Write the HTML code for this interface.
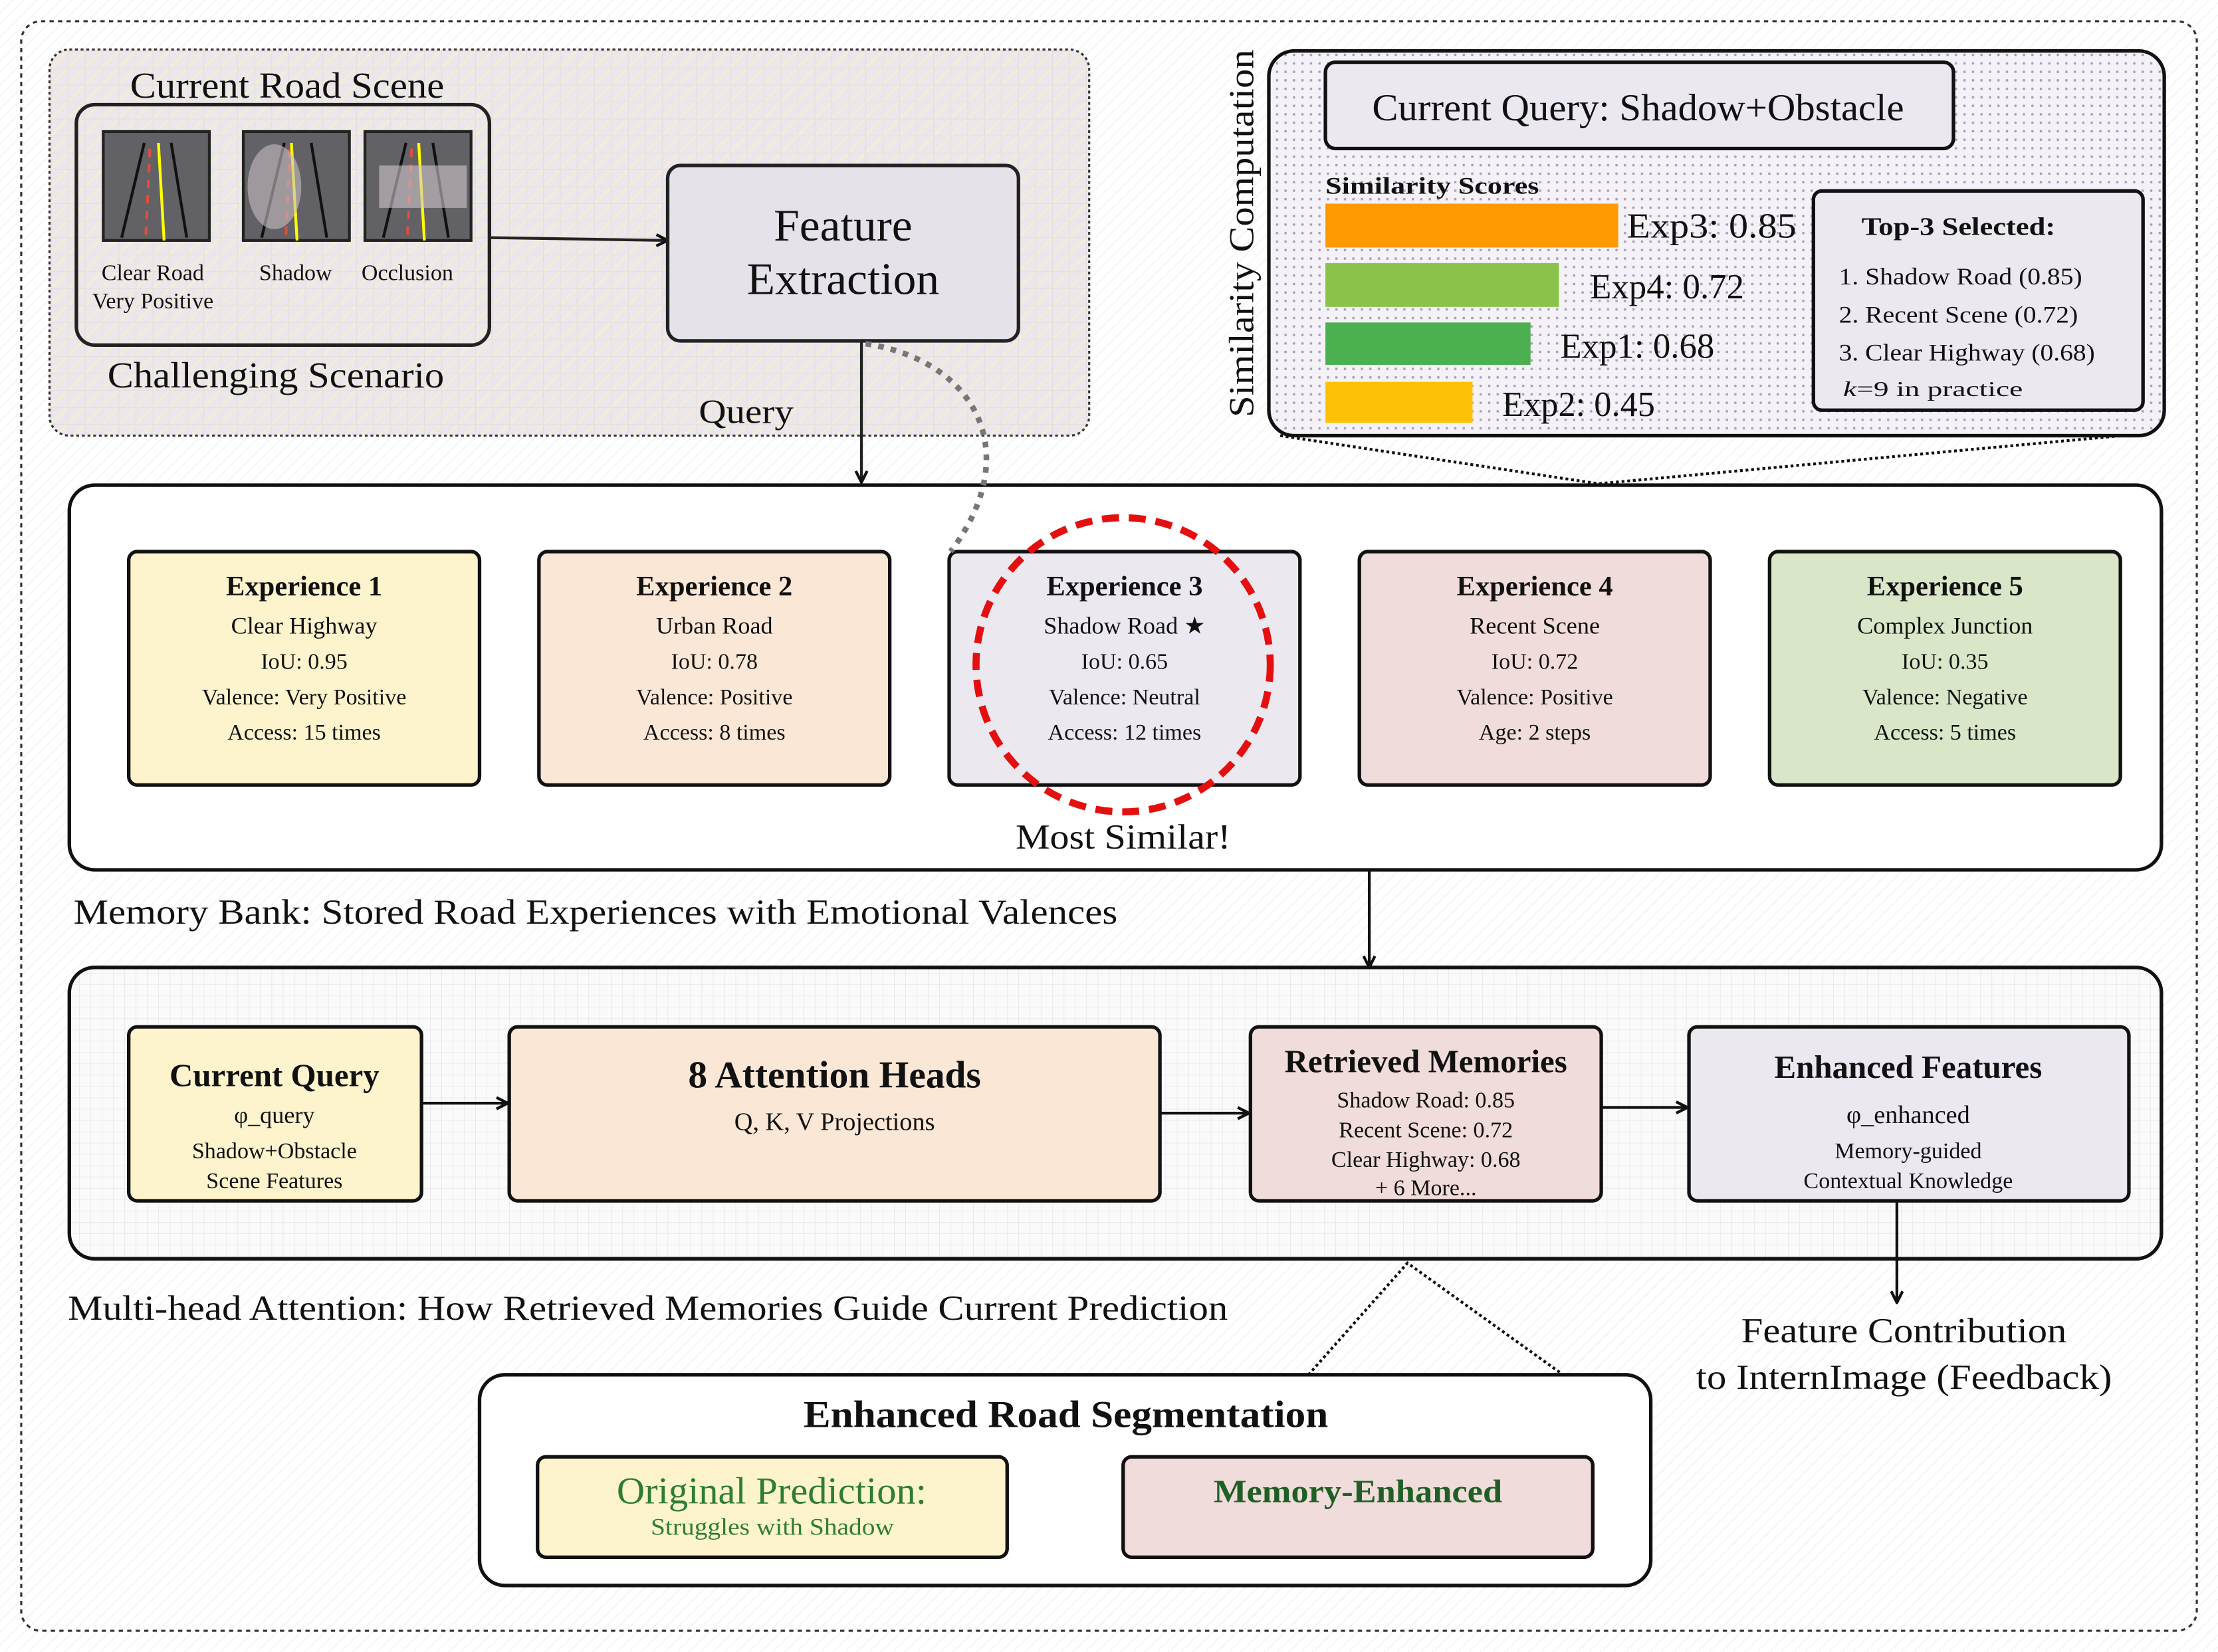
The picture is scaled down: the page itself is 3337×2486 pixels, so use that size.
<!DOCTYPE html>
<html><head><meta charset="utf-8"><style>
html,body{margin:0;padding:0;background:#fff}
svg{display:block}
text{font-family:"Liberation Serif",serif;fill:#111}
.b{font-weight:bold}
</style></head><body>
<svg width="3337" height="2486" viewBox="0 0 1568 1168" preserveAspectRatio="none" xmlns="http://www.w3.org/2000/svg">
<defs>
<pattern id="diag" width="6" height="6" patternUnits="userSpaceOnUse" patternTransform="rotate(45)"><rect width="6" height="6" fill="#fff"/><line x1="0" y1="0" x2="0" y2="6" stroke="#eee" stroke-width="1"/></pattern>
<pattern id="tl" width="12" height="12" patternUnits="userSpaceOnUse"><rect width="12" height="12" fill="#ebe7ea"/><path d="M0 12L12 0" stroke="#f3ecd8" stroke-width="2"/><path d="M0 0H12M0 0V12" stroke="#ddd6e0" stroke-width="0.5"/></pattern>
<pattern id="dots" width="6" height="6" patternUnits="userSpaceOnUse"><rect width="6" height="6" fill="#f4f2f7"/><rect x="2" y="2" width="1.6" height="1.6" fill="#a89cc0"/></pattern>
<pattern id="grid" width="8" height="8" patternUnits="userSpaceOnUse"><rect width="8" height="8" fill="#fafafb"/><path d="M0 0H8M0 0V8" stroke="#e2e2e8" stroke-width="0.6"/></pattern>
<marker id="ar" markerWidth="10" markerHeight="10" refX="9" refY="5" orient="auto" markerUnits="userSpaceOnUse"><path d="M1 1L9 5L1 9" fill="none" stroke="#111" stroke-width="2"/></marker>
</defs>
<rect width="1568" height="1168" fill="url(#diag)"/>
<rect x="15" y="15" width="1538" height="1138" rx="14" fill="none" stroke="#333" stroke-width="1.5" stroke-dasharray="3,3"/>

<!-- top-left panel -->
<rect x="35" y="35" width="735" height="273" rx="14" fill="url(#tl)" stroke="#333" stroke-width="1.5" stroke-dasharray="2,2"/>
<text x="92" y="69" font-size="26" textLength="222" lengthAdjust="spacingAndGlyphs">Current Road Scene</text>
<rect x="54" y="74" width="292" height="170" rx="13" fill="none" stroke="#222" stroke-width="2.5"/>
<g stroke="#222" stroke-width="2">
<rect x="73" y="93" width="75" height="77" fill="#616166"/>
<rect x="172" y="93" width="75" height="77" fill="#616166"/>
<rect x="258" y="93" width="75" height="77" fill="#616166"/>
</g>
<g stroke-width="2" fill="none">
<path d="M86 168L102 101M121 101L132 168" stroke="#111"/><path d="M106 105L103 168" stroke="#d9503f" stroke-dasharray="6,5"/><path d="M112 101L116 170" stroke="#ff0"/>
<path d="M185 168L201 101M220 101L231 168" stroke="#111"/><path d="M205 105L202 168" stroke="#d9503f" stroke-dasharray="6,5"/><path d="M206 101L210 170" stroke="#ff0"/>
<path d="M271 168L287 101M306 101L317 168" stroke="#111"/><path d="M291 105L288 168" stroke="#d9503f" stroke-dasharray="6,5"/><path d="M296 101L300 170" stroke="#ff0"/>
</g>
<ellipse cx="194" cy="132" rx="19" ry="30" fill="#c8bcc0" opacity="0.6"/>
<rect x="268" y="117" width="62" height="30" fill="#d0c4c8" opacity="0.6"/>
<text x="108" y="198" font-size="16" text-anchor="middle">Clear Road</text>
<text x="108" y="218" font-size="16" text-anchor="middle">Very Positive</text>
<text x="209" y="198" font-size="16" text-anchor="middle">Shadow</text>
<text x="288" y="198" font-size="16" text-anchor="middle">Occlusion</text>
<text x="76" y="274" font-size="26" textLength="238" lengthAdjust="spacingAndGlyphs">Challenging Scenario</text>
<line x1="346" y1="168" x2="472" y2="170" stroke="#222" stroke-width="2" marker-end="url(#ar)"/>
<rect x="472" y="117" width="248" height="124" rx="9" fill="#e6e2ea" stroke="#222" stroke-width="2.5"/>
<text x="547" y="170" font-size="32" textLength="98" lengthAdjust="spacingAndGlyphs">Feature</text>
<text x="528" y="208" font-size="32" textLength="136" lengthAdjust="spacingAndGlyphs">Extraction</text>
<line x1="609" y1="241" x2="609" y2="341" stroke="#222" stroke-width="2" marker-end="url(#ar)"/>
<text x="494" y="299" font-size="24" textLength="67" lengthAdjust="spacingAndGlyphs">Query</text>

<!-- similarity panel -->
<rect x="897" y="36" width="633" height="272" rx="18" fill="url(#dots)" stroke="#111" stroke-width="2.5"/>
<text transform="translate(886,165) rotate(-90)" font-size="25" text-anchor="middle" textLength="260" lengthAdjust="spacingAndGlyphs">Similarity Computation</text>
<rect x="937" y="44" width="444" height="61" rx="7" fill="#ebe8ef" stroke="#111" stroke-width="2.5"/>
<text x="970" y="85" font-size="27" textLength="376" lengthAdjust="spacingAndGlyphs">Current Query: Shadow+Obstacle</text>
<text x="937" y="137" font-size="17" class="b" textLength="151" lengthAdjust="spacingAndGlyphs">Similarity Scores</text>
<rect x="937" y="144" width="207" height="31" fill="#ff9900"/>
<rect x="937" y="186" width="165" height="31" fill="#8bc34a"/>
<rect x="937" y="228" width="145" height="30" fill="#4caf50"/>
<rect x="937" y="270" width="104" height="29" fill="#ffc107"/>
<text x="1150" y="168" font-size="25" fill="#333" textLength="120" lengthAdjust="spacingAndGlyphs">Exp3: 0.85</text>
<text x="1124" y="211" font-size="25" fill="#333" textLength="109" lengthAdjust="spacingAndGlyphs">Exp4: 0.72</text>
<text x="1103" y="253" font-size="25" fill="#333" textLength="109" lengthAdjust="spacingAndGlyphs">Exp1: 0.68</text>
<text x="1062" y="294" font-size="25" fill="#333" textLength="108" lengthAdjust="spacingAndGlyphs">Exp2: 0.45</text>
<rect x="1282" y="135" width="233" height="155" rx="6" fill="#ebe8ef" stroke="#111" stroke-width="2.5"/>
<text x="1316" y="166" font-size="18" class="b" textLength="137" lengthAdjust="spacingAndGlyphs">Top-3 Selected:</text>
<text x="1300" y="201" font-size="17" textLength="172" lengthAdjust="spacingAndGlyphs">1. Shadow Road (0.85)</text>
<text x="1300" y="228" font-size="17" textLength="169" lengthAdjust="spacingAndGlyphs">2. Recent Scene (0.72)</text>
<text x="1300" y="255" font-size="17" textLength="181" lengthAdjust="spacingAndGlyphs">3. Clear Highway (0.68)</text>
<text x="1303" y="280" font-size="15" textLength="127" lengthAdjust="spacingAndGlyphs"><tspan font-style="italic">k</tspan>=9 in practice</text>
<path d="M905 308L1130 342L1500 308" fill="none" stroke="#111" stroke-width="2" stroke-dasharray="2,2"/>

<!-- memory bank -->
<rect x="49" y="343" width="1479" height="272" rx="18" fill="#fff" stroke="#111" stroke-width="2.5"/>
<g stroke="#111" stroke-width="2.5">
<rect x="91" y="390" width="248" height="165" rx="6" fill="#fdf3cc"/>
<rect x="381" y="390" width="248" height="165" rx="6" fill="#fbe7d6"/>
<rect x="671" y="390" width="248" height="165" rx="6" fill="#ebe8f0"/>
<rect x="961" y="390" width="248" height="165" rx="6" fill="#f0dcda"/>
<rect x="1251" y="390" width="248" height="165" rx="6" fill="#d9e6c8"/>
</g>
<path d="M612 243C690 255 725 320 672 390" fill="none" stroke="#777" stroke-width="4" stroke-dasharray="4,5"/>
<g text-anchor="middle">
<g transform="translate(215,0)"><text y="421" font-size="20" class="b">Experience 1</text><text y="448" font-size="17">Clear Highway</text><text y="473" font-size="16">IoU: 0.95</text><text y="498" font-size="16">Valence: Very Positive</text><text y="523" font-size="16">Access: 15 times</text></g>
<g transform="translate(505,0)"><text y="421" font-size="20" class="b">Experience 2</text><text y="448" font-size="17">Urban Road</text><text y="473" font-size="16">IoU: 0.78</text><text y="498" font-size="16">Valence: Positive</text><text y="523" font-size="16">Access: 8 times</text></g>
<g transform="translate(795,0)"><text y="421" font-size="20" class="b">Experience 3</text><text y="448" font-size="17">Shadow Road ★</text><text y="473" font-size="16">IoU: 0.65</text><text y="498" font-size="16">Valence: Neutral</text><text y="523" font-size="16">Access: 12 times</text></g>
<g transform="translate(1085,0)"><text y="421" font-size="20" class="b">Experience 4</text><text y="448" font-size="17">Recent Scene</text><text y="473" font-size="16">IoU: 0.72</text><text y="498" font-size="16">Valence: Positive</text><text y="523" font-size="16">Age: 2 steps</text></g>
<g transform="translate(1375,0)"><text y="421" font-size="20" class="b">Experience 5</text><text y="448" font-size="17">Complex Junction</text><text y="473" font-size="16">IoU: 0.35</text><text y="498" font-size="16">Valence: Negative</text><text y="523" font-size="16">Access: 5 times</text></g>
</g>
<circle cx="794" cy="470" r="104" fill="none" stroke="#e41010" stroke-width="5" stroke-dasharray="12,7"/>
<text x="718" y="600" font-size="25" textLength="152" lengthAdjust="spacingAndGlyphs">Most Similar!</text>
<text x="52" y="653" font-size="25" textLength="738" lengthAdjust="spacingAndGlyphs">Memory Bank: Stored Road Experiences with Emotional Valences</text>
<line x1="968" y1="615" x2="968" y2="684" stroke="#111" stroke-width="2" marker-end="url(#ar)"/>

<!-- attention -->
<rect x="49" y="684" width="1479" height="206" rx="18" fill="url(#grid)" stroke="#111" stroke-width="2.5"/>
<g stroke="#111" stroke-width="2.5">
<rect x="91" y="726" width="207" height="123" rx="6" fill="#fdf3cc"/>
<rect x="360" y="726" width="460" height="123" rx="6" fill="#fbe7d6"/>
<rect x="884" y="726" width="248" height="123" rx="6" fill="#f0dcda"/>
<rect x="1194" y="726" width="311" height="123" rx="6" fill="#ebe8f0"/>
</g>
<g text-anchor="middle">
<text x="194" y="768" font-size="23" class="b">Current Query</text>
<text x="194" y="794" font-size="17">φ_query</text>
<text x="194" y="819" font-size="16">Shadow+Obstacle</text>
<text x="194" y="840" font-size="16">Scene Features</text>
<text x="590" y="769" font-size="27" class="b">8 Attention Heads</text>
<text x="590" y="799" font-size="18">Q, K, V Projections</text>
<text x="1008" y="758" font-size="23" class="b">Retrieved Memories</text>
<text x="1008" y="783" font-size="16">Shadow Road: 0.85</text>
<text x="1008" y="804" font-size="16">Recent Scene: 0.72</text>
<text x="1008" y="825" font-size="16">Clear Highway: 0.68</text>
<text x="1008" y="845" font-size="16">+ 6 More...</text>
<text x="1349" y="762" font-size="23" class="b">Enhanced Features</text>
<text x="1349" y="794" font-size="18">φ_enhanced</text>
<text x="1349" y="819" font-size="16">Memory-guided</text>
<text x="1349" y="840" font-size="16">Contextual Knowledge</text>
</g>
<g stroke="#111" stroke-width="2" marker-end="url(#ar)">
<line x1="298" y1="780" x2="359" y2="780"/>
<line x1="820" y1="787" x2="883" y2="787"/>
<line x1="1132" y1="783" x2="1193" y2="783"/>
<line x1="1341" y1="849" x2="1341" y2="921"/>
</g>
<text x="48" y="933" font-size="25" textLength="820" lengthAdjust="spacingAndGlyphs">Multi-head Attention: How Retrieved Memories Guide Current Prediction</text>
<text x="1231" y="949" font-size="25" textLength="230" lengthAdjust="spacingAndGlyphs">Feature Contribution</text>
<text x="1199" y="982" font-size="25" textLength="294" lengthAdjust="spacingAndGlyphs">to InternImage (Feedback)</text>
<path d="M925 972L995 893L1105 972" fill="none" stroke="#111" stroke-width="2" stroke-dasharray="2,2"/>

<!-- segmentation -->
<rect x="339" y="972" width="828" height="149" rx="18" fill="#fff" stroke="#111" stroke-width="2.5"/>
<text x="568" y="1009" font-size="27" class="b" textLength="371" lengthAdjust="spacingAndGlyphs">Enhanced Road Segmentation</text>
<rect x="380" y="1030" width="332" height="71" rx="6" fill="#fdf3cc" stroke="#111" stroke-width="2.5"/>
<rect x="794" y="1030" width="332" height="71" rx="6" fill="#f0dcda" stroke="#111" stroke-width="2.5"/>
<text x="436" y="1063" font-size="27" textLength="219" lengthAdjust="spacingAndGlyphs" style="fill:#2e7d32">Original Prediction:</text>
<text x="460" y="1085" font-size="17" textLength="172" lengthAdjust="spacingAndGlyphs" style="fill:#2e7d32">Struggles with Shadow</text>
<text x="858" y="1062" font-size="23" class="b" textLength="204" lengthAdjust="spacingAndGlyphs" style="fill:#1f5f26">Memory-Enhanced</text>
</svg>
</body></html>
